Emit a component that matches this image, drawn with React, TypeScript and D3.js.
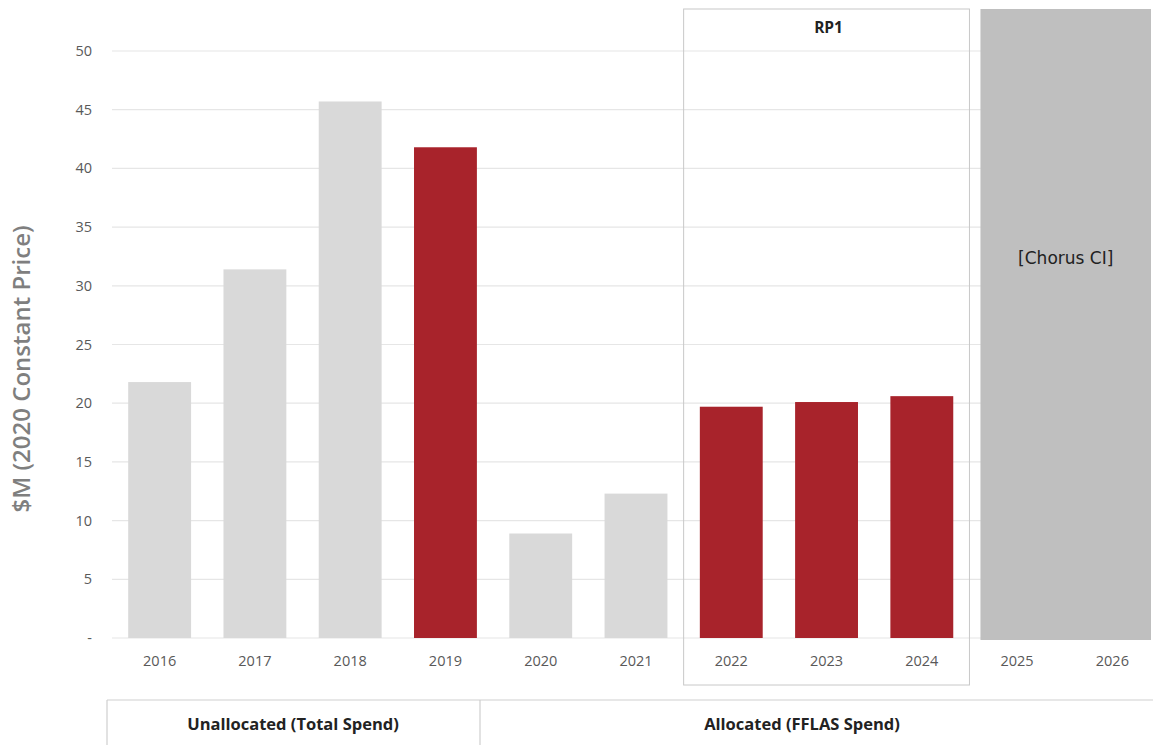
import React from "react";
import * as d3 from "d3";

const years = ["2016","2017","2018","2019","2020","2021","2022","2023","2024","2025","2026"];
const values: (number | null)[] = [21.8, 31.4, 45.7, 41.8, 8.9, 12.3, 19.7, 20.1, 20.6, null, null];
const highlighted = ["2019","2022","2023","2024"];
const yTicks = [0, 5, 10, 15, 20, 25, 30, 35, 40, 45, 50];
const groupLabels = ["Unallocated (Total Spend)", "Allocated (FFLAS Spend)"];
const rpLabel = "RP1";
const rpYears = ["2022", "2024"];
const forecastLabel = "[Chorus CI]";
const yTitle = "$M (2020 Constant Price)";

const W = 1153, H = 745;
const FONT = "'Open Sans', 'DejaVu Sans', sans-serif";

export default function App() {
  const x = d3.scaleBand<string>().domain(years).range([112, 1160]).paddingInner(0.34).paddingOuter(0.17);
  const y = d3.scaleLinear().domain([0, 50]).range([638, 51]);
  const step = x.step();
  const bandStart = (yr: string) => (x(yr) as number) - step * 0.17;
  const rpX0 = bandStart(rpYears[0]);
  const rpX1 = bandStart(rpYears[1]) + step;
  const fcX0 = bandStart("2025") + 11;

  return (
    <svg width={W} height={H} style={{ position: "absolute", left: 0, top: 0, background: "#fff" }} fontFamily={FONT}>
      {yTicks.map((t) => (
        <g key={t}>
          <line x1={112} x2={1150} y1={y(t)} y2={y(t)} stroke="#e6e6e6" strokeWidth={1.2} />
          <text x={92} y={y(t)} dy="0.35em" textAnchor="end" fontSize={14.5} fill="#595959">
            {t === 0 ? "-" : t}
          </text>
        </g>
      ))}
      {/* RP1 box */}
      <rect x={rpX0} y={9} width={rpX1 - rpX0} height={676} fill="none" stroke="#c8c8c8" strokeWidth={1} />
      <text x={(rpX0 + rpX1) / 2 + 2} y={28} dy="0.35em" textAnchor="middle" fontSize={15.5} fontWeight={700} fill="#222">{rpLabel}</text>
      {years.map((yr, i) => {
        const v = values[i];
        if (v == null) return null;
        return (
          <rect key={yr} x={x(yr)} y={y(v)} width={x.bandwidth()} height={y(0) - y(v)}
            fill={highlighted.includes(yr) ? "#a8232b" : "#d9d9d9"} />
        );
      })}
      {/* Forecast box */}
      <rect x={fcX0} y={9} width={1151 - fcX0} height={y(0) + 2 - 9} fill="#bfbfbf" />
      <text x={(fcX0 + 1151) / 2} y={258} dy="0.35em" textAnchor="middle" fontSize={17} fill="#222"
        fontFamily="'DejaVu Sans', sans-serif">{forecastLabel}</text>
      {years.map((yr) => (
        <text key={yr} x={(x(yr) as number) + x.bandwidth() / 2} y={661} dy="0.35em" textAnchor="middle" fontSize={14.5} fill="#595959">{yr}</text>
      ))}
      {/* Group boxes */}
      <line x1={107} x2={1153} y1={700} y2={700} stroke="#cfcfcf" strokeWidth={1.2} />
      <line x1={107} x2={107} y1={700} y2={745} stroke="#cfcfcf" strokeWidth={1.2} />
      <line x1={480} x2={480} y1={700} y2={745} stroke="#cfcfcf" strokeWidth={1.2} />
      <text x={293} y={724} dy="0.35em" textAnchor="middle" fontSize={16.5} fontWeight={700} fill="#222">{groupLabels[0]}</text>
      <text x={802} y={724} dy="0.35em" textAnchor="middle" fontSize={16.5} fontWeight={700} fill="#222">{groupLabels[1]}</text>
      <text transform={`translate(22,369) rotate(-90)`} dy="0.35em" textAnchor="middle" fontSize={24} fontWeight={600} fill="#7f7f7f">{yTitle}</text>
    </svg>
  );
}
